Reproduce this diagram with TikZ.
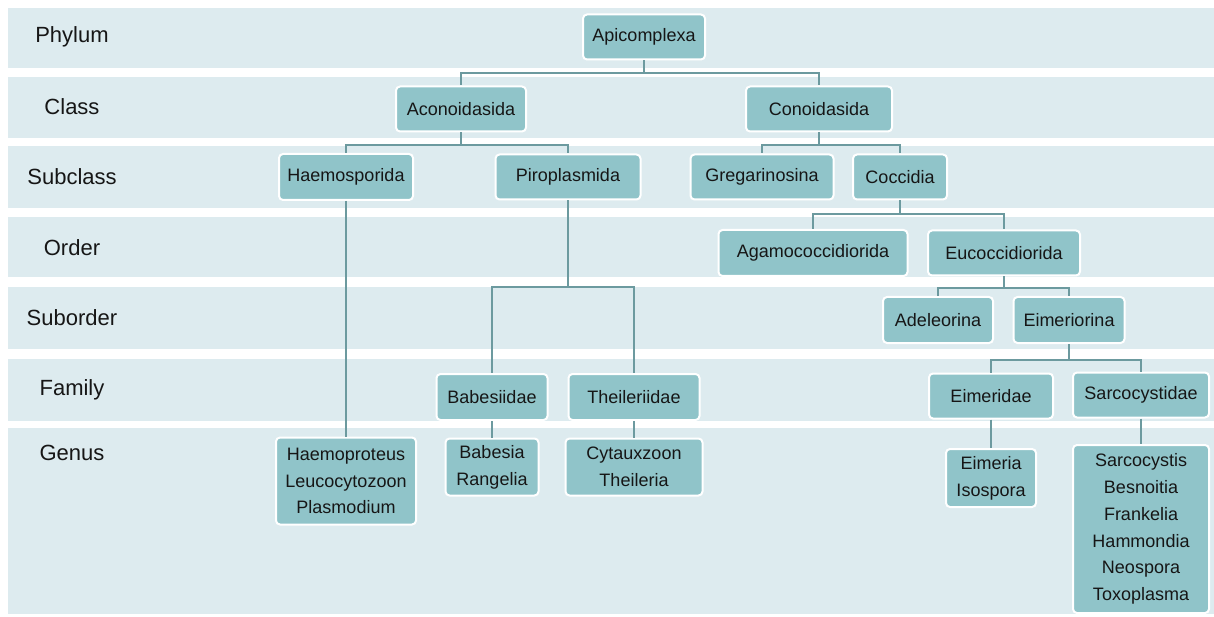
\documentclass[tikz,border=0pt]{standalone}
\usepackage{fontspec}
\setmainfont{Liberation Sans}
\definecolor{bandc}{HTML}{DDEBEF}
\definecolor{boxc}{HTML}{90C4C9}
\definecolor{linec}{HTML}{6C9A9F}
\definecolor{txtc}{HTML}{161616}
\tikzset{
  band/.style={fill=bandc, draw=none},
  rank/.style={font=\fontsize{22}{26}\selectfont, text=txtc, anchor=center},
  taxon/.style={fill=boxc, draw=white, line width=2pt, rounded corners=4pt,
    font=\fontsize{18}{26.7}\selectfont, text=txtc, align=center, inner sep=0pt},
  conn/.style={draw=linec, line width=2.5pt},
}
\begin{document}
\begin{tikzpicture}[x=1pt, y=-1pt]
\useasboundingbox (0,0) rectangle (1214,617);
\fill[white] (0,0) rectangle (1214,617);
% bands
\fill[band] (8,8) rectangle (1214,68);
\fill[band] (8,77) rectangle (1214,138);
\fill[band] (8,146) rectangle (1214,208);
\fill[band] (8,217) rectangle (1214,277);
\fill[band] (8,287) rectangle (1214,349);
\fill[band] (8,359) rectangle (1214,421);
\fill[band] (8,428) rectangle (1214,614);
% rank labels
\node[rank] (lphy) at (72,37) {Phylum};
\node[rank] (lcla) at (72,107) {Class};
\node[rank] (lsub) at (72,177) {Subclass};
\node[rank] (lord) at (72,248) {Order};
\node[rank] (lsubo) at (72,318) {Suborder};
\node[rank] (lfam) at (72,390) {Family};
\node[rank] (lgen) at (72,453) {Genus};
% nodes
\node[taxon, minimum width=122pt, minimum height=45pt] (api) at (644,37) {Apicomplexa};
\node[taxon, minimum width=130pt, minimum height=45pt] (acon) at (461,109) {Aconoidasida};
\node[taxon, minimum width=146pt, minimum height=45pt] (conoi) at (819,109) {Conoidasida};
\node[taxon, minimum width=134pt, minimum height=46pt] (haemo) at (346,177) {Haemosporida};
\node[taxon, minimum width=145pt, minimum height=45pt] (piro) at (568,177) {Piroplasmida};
\node[taxon, minimum width=143pt, minimum height=45pt] (greg) at (762,177) {Gregarinosina};
\node[taxon, minimum width=94pt, minimum height=45pt] (cocc) at (900,177) {Coccidia};
\node[taxon, minimum width=189pt, minimum height=46pt] (agamo) at (813,253) {Agamococcidiorida};
\node[taxon, minimum width=152pt, minimum height=45pt] (euco) at (1004,253) {Eucoccidiorida};
\node[taxon, minimum width=110pt, minimum height=46pt] (adel) at (938,320) {Adeleorina};
\node[taxon, minimum width=111pt, minimum height=46pt] (eimer) at (1069,320) {Eimeriorina};
\node[taxon, minimum width=111pt, minimum height=46pt] (babfam) at (492,397) {Babesiidae};
\node[taxon, minimum width=131pt, minimum height=46pt] (theifam) at (634,397) {Theileriidae};
\node[taxon, minimum width=124pt, minimum height=45pt] (eimfam) at (991,396) {Eimeridae};
\node[taxon, minimum width=136pt, minimum height=45pt] (sarcfam) at (1141,395) {Sarcocystidae};
\node[taxon, minimum width=140pt, minimum height=87pt] (haemgen) at (346,481) {Haemoproteus\\Leucocytozoon\\Plasmodium};
\node[taxon, minimum width=93pt, minimum height=57pt] (babgen) at (492,467) {Babesia\\Rangelia};
\node[taxon, minimum width=137pt, minimum height=57pt] (cytgen) at (634,467) {Cytauxzoon\\Theileria};
\node[taxon, minimum width=90pt, minimum height=58pt] (eimgen) at (991,478) {Eimeria\\Isospora};
\node[taxon, minimum width=136pt, minimum height=168pt] (sarcgen) at (1141,529) {Sarcocystis\\Besnoitia\\Frankelia\\Hammondia\\Neospora\\Toxoplasma};
% connectors
\draw[conn] (api.south) -- ++(0,12.5) coordinate (j1);
\draw[conn] (j1) -| (acon.north);
\draw[conn] (j1) -| (conoi.north);
\draw[conn] (acon.south) -- ++(0,12.5) coordinate (j2);
\draw[conn] (j2) -| (haemo.north);
\draw[conn] (j2) -| (piro.north);
\draw[conn] (conoi.south) -- ++(0,12.5) coordinate (j3);
\draw[conn] (j3) -| (greg.north);
\draw[conn] (j3) -| (cocc.north);
\draw[conn] (cocc.south) -- ++(0,13.5) coordinate (j4);
\draw[conn] (j4) -| (agamo.north);
\draw[conn] (j4) -| (euco.north);
\draw[conn] (euco.south) -- ++(0,11.5) coordinate (j5);
\draw[conn] (j5) -| (adel.north);
\draw[conn] (j5) -| (eimer.north);
\draw[conn] (eimer.south) -- ++(0,16) coordinate (j6);
\draw[conn] (j6) -| (eimfam.north);
\draw[conn] (j6) -| (sarcfam.north);
\draw[conn] (piro.south) -- ++(0,86.5) coordinate (j7);
\draw[conn] (j7) -| (babfam.north);
\draw[conn] (j7) -| (theifam.north);
\draw[conn] (haemo.south) -- (haemgen.north);
\draw[conn] (babfam.south) -- (babgen.north);
\draw[conn] (theifam.south) -- (cytgen.north);
\draw[conn] (eimfam.south) -- (eimgen.north);
\draw[conn] (sarcfam.south) -- (sarcgen.north);
\end{tikzpicture}
\end{document}
